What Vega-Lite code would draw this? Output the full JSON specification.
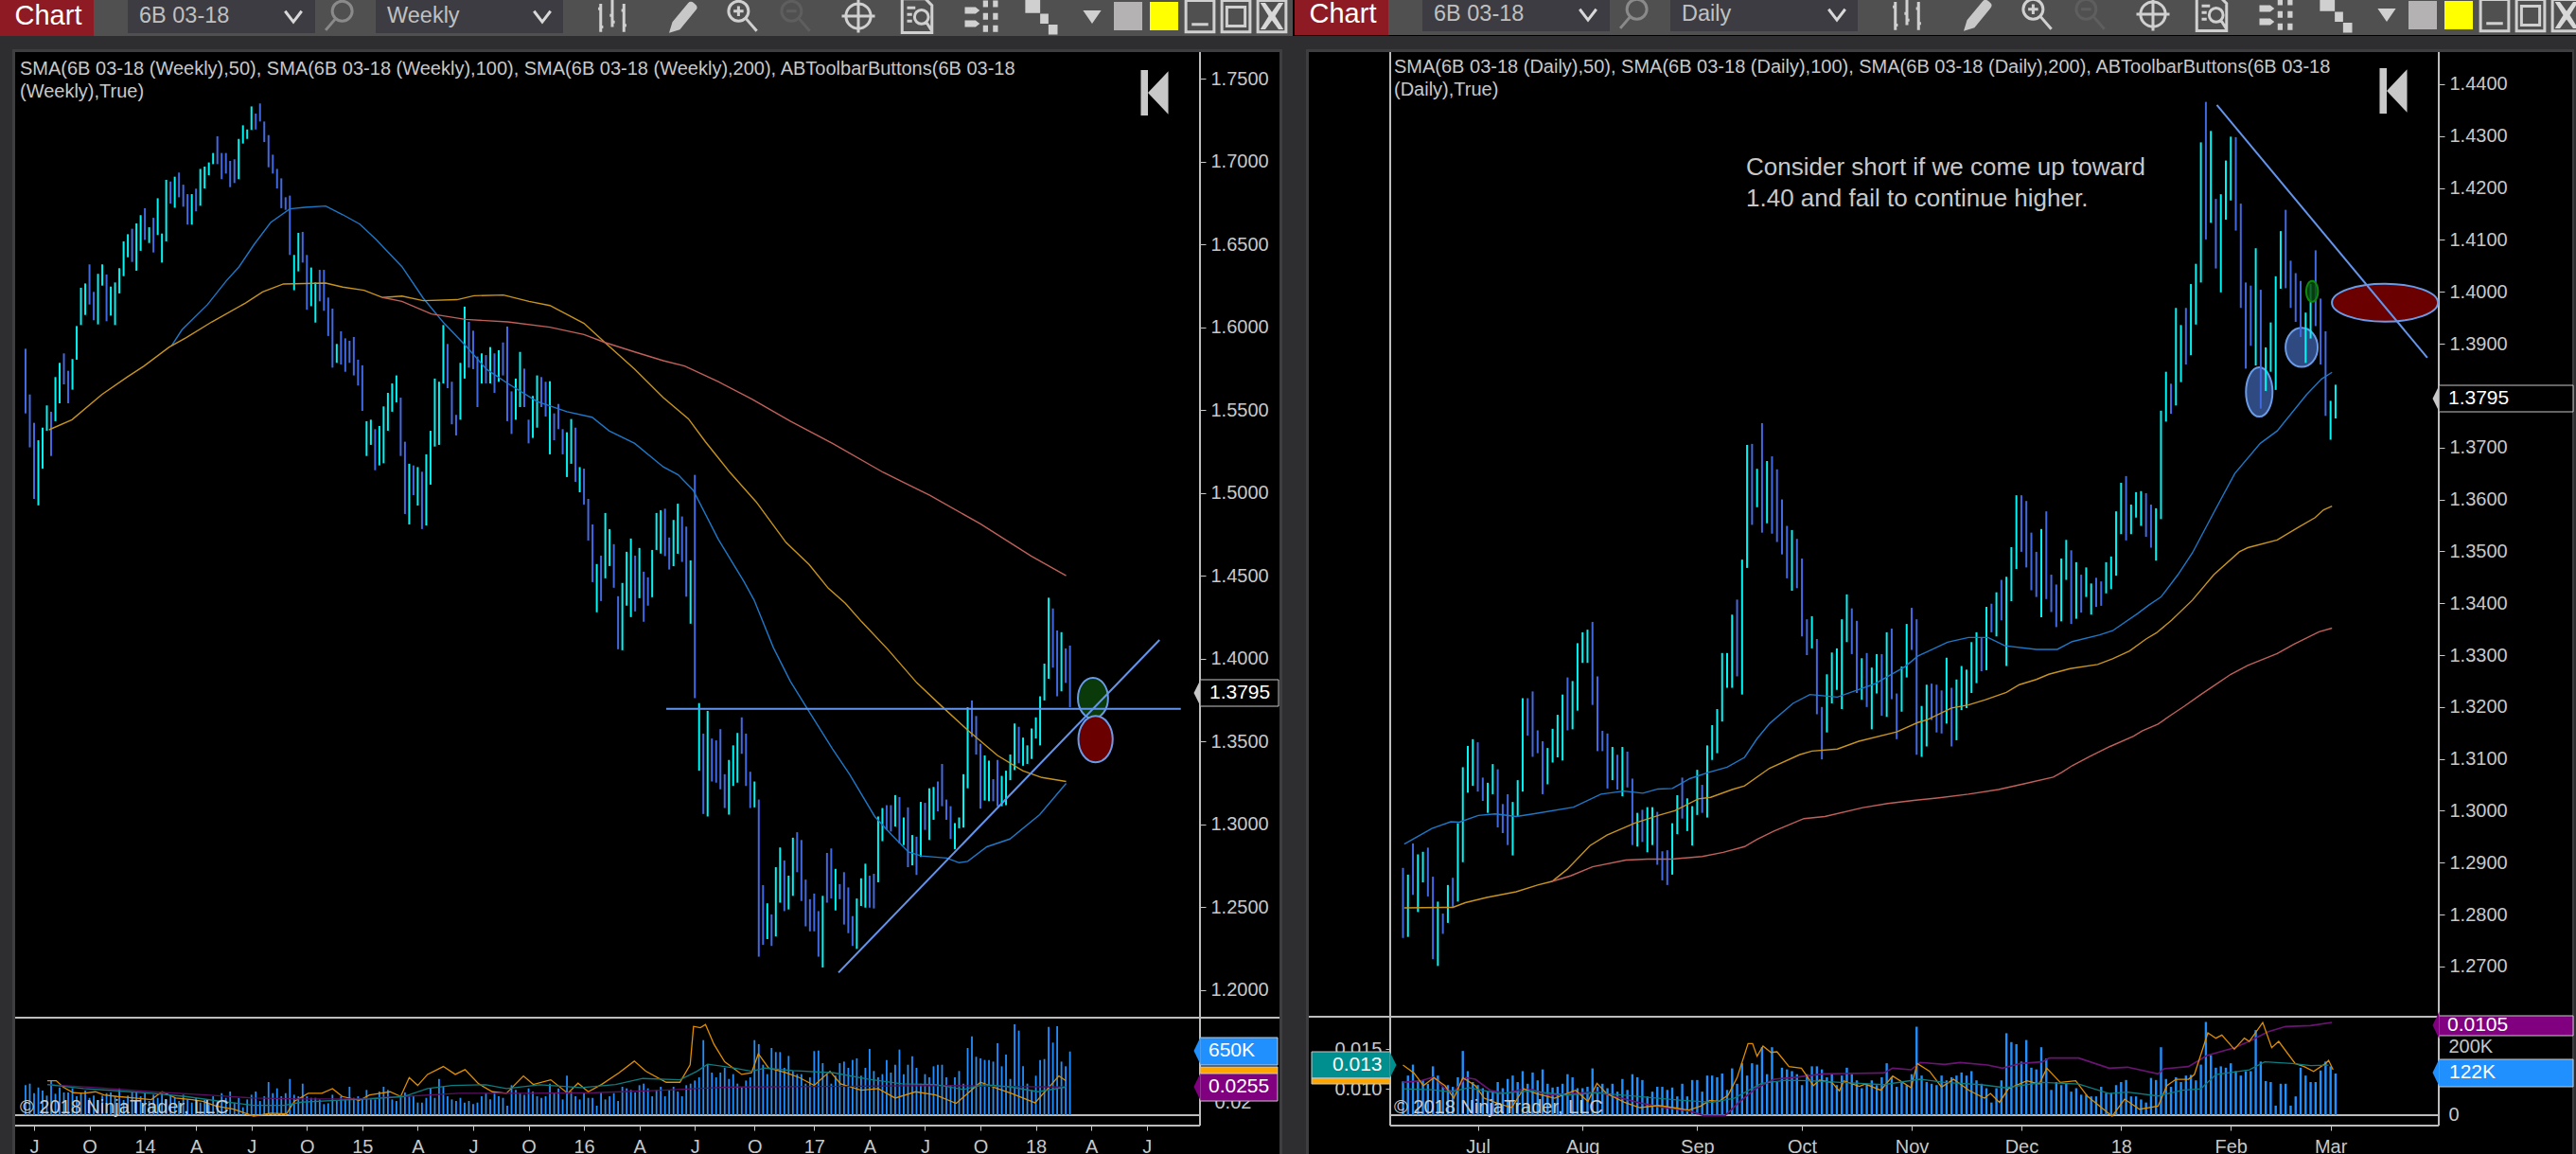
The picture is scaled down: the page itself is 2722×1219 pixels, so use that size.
{"$schema":"https://vega.github.io/schema/vega-lite/v6.json","width":2722,"height":1219,"padding":0,"autosize":{"type":"none"},"background":"#000000",
"config":{"view":{"stroke":null},"axis":{"labelFont":"Liberation Sans","labelColor":"#c8c8c8","labelFontSize":20,"tickColor":"#c8c8c8","domain":false,"grid":false,"labelOverlap":false,"labelBound":false,"labelFlush":false}},
"datasets":{
"weekly":[
{"n":0,"h":1.5870,"l":1.5480,"v":306,"dir":"down"},{"n":1,"h":1.5594,"l":1.5275,"v":322,"dir":"down"},{"n":2,"h":1.5423,"l":1.4964,"v":225,"dir":"down"},{"n":3,"h":1.5318,"l":1.4925,"v":283,"dir":"up"},{"n":4,"h":1.5394,"l":1.5147,"v":251,"dir":"up"},{"n":5,"h":1.5528,"l":1.5375,"v":200,"dir":"up"},{"n":6,"h":1.5490,"l":1.5223,"v":354,"dir":"down"},{"n":7,"h":1.5699,"l":1.5433,"v":219,"dir":"up"},{"n":8,"h":1.5785,"l":1.5541,"v":283,"dir":"up"},{"n":9,"h":1.5842,"l":1.5655,"v":232,"dir":"down"},
{"n":10,"h":1.5737,"l":1.5541,"v":232,"dir":"down"},{"n":11,"h":1.5808,"l":1.5623,"v":274,"dir":"up"},{"n":12,"h":1.6007,"l":1.5804,"v":193,"dir":"up"},{"n":13,"h":1.6238,"l":1.6013,"v":225,"dir":"up"},{"n":14,"h":1.6264,"l":1.6074,"v":251,"dir":"up"},{"n":15,"h":1.6379,"l":1.6137,"v":177,"dir":"down"},{"n":16,"h":1.6213,"l":1.6042,"v":200,"dir":"down"},{"n":17,"h":1.6322,"l":1.6017,"v":155,"dir":"up"},{"n":18,"h":1.6379,"l":1.6251,"v":200,"dir":"up"},{"n":19,"h":1.6318,"l":1.6036,"v":225,"dir":"down"},
{"n":20,"h":1.6245,"l":1.6070,"v":232,"dir":"up"},{"n":21,"h":1.6270,"l":1.6013,"v":193,"dir":"up"},{"n":22,"h":1.6356,"l":1.6204,"v":274,"dir":"up"},{"n":23,"h":1.6518,"l":1.6308,"v":155,"dir":"up"},{"n":24,"h":1.6561,"l":1.6422,"v":200,"dir":"up"},{"n":25,"h":1.6594,"l":1.6394,"v":232,"dir":"down"},{"n":26,"h":1.6626,"l":1.6341,"v":242,"dir":"up"},{"n":27,"h":1.6676,"l":1.6461,"v":193,"dir":"up"},{"n":28,"h":1.6718,"l":1.6527,"v":225,"dir":"down"},{"n":29,"h":1.6603,"l":1.6508,"v":145,"dir":"up"},
{"n":30,"h":1.6660,"l":1.6451,"v":209,"dir":"down"},{"n":31,"h":1.6778,"l":1.6556,"v":177,"dir":"up"},{"n":32,"h":1.6565,"l":1.6390,"v":225,"dir":"up"},{"n":33,"h":1.6889,"l":1.6518,"v":161,"dir":"up"},{"n":34,"h":1.6879,"l":1.6746,"v":193,"dir":"down"},{"n":35,"h":1.6908,"l":1.6721,"v":177,"dir":"up"},{"n":36,"h":1.6933,"l":1.6784,"v":145,"dir":"down"},{"n":37,"h":1.6860,"l":1.6727,"v":209,"dir":"down"},{"n":38,"h":1.6803,"l":1.6619,"v":161,"dir":"down"},{"n":39,"h":1.6803,"l":1.6619,"v":129,"dir":"up"},
{"n":40,"h":1.6836,"l":1.6699,"v":177,"dir":"down"},{"n":41,"h":1.6955,"l":1.6733,"v":129,"dir":"up"},{"n":42,"h":1.6969,"l":1.6837,"v":155,"dir":"up"},{"n":43,"h":1.6994,"l":1.6917,"v":113,"dir":"up"},{"n":44,"h":1.7051,"l":1.6984,"v":193,"dir":"up"},{"n":45,"h":1.7152,"l":1.6984,"v":145,"dir":"down"},{"n":46,"h":1.7051,"l":1.6893,"v":225,"dir":"down"},{"n":47,"h":1.7051,"l":1.6927,"v":177,"dir":"down"},{"n":48,"h":1.7003,"l":1.6845,"v":242,"dir":"down"},{"n":49,"h":1.7013,"l":1.6870,"v":129,"dir":"down"},
{"n":50,"h":1.7136,"l":1.6893,"v":177,"dir":"up"},{"n":51,"h":1.7218,"l":1.7108,"v":81,"dir":"up"},{"n":52,"h":1.7193,"l":1.7136,"v":161,"dir":"up"},{"n":53,"h":1.7332,"l":1.7190,"v":209,"dir":"up"},{"n":54,"h":1.7289,"l":1.7193,"v":242,"dir":"down"},{"n":55,"h":1.7350,"l":1.7241,"v":145,"dir":"down"},{"n":56,"h":1.7241,"l":1.7117,"v":193,"dir":"down"},{"n":57,"h":1.7159,"l":1.6965,"v":338,"dir":"down"},{"n":58,"h":1.7041,"l":1.6927,"v":225,"dir":"down"},{"n":59,"h":1.6955,"l":1.6837,"v":274,"dir":"down"},
{"n":60,"h":1.6898,"l":1.6718,"v":193,"dir":"down"},{"n":61,"h":1.6784,"l":1.6708,"v":225,"dir":"down"},{"n":62,"h":1.6794,"l":1.6436,"v":370,"dir":"down"},{"n":63,"h":1.6436,"l":1.6223,"v":209,"dir":"up"},{"n":64,"h":1.6569,"l":1.6337,"v":193,"dir":"up"},{"n":65,"h":1.6575,"l":1.6390,"v":322,"dir":"down"},{"n":66,"h":1.6436,"l":1.6105,"v":193,"dir":"down"},{"n":67,"h":1.6360,"l":1.6127,"v":177,"dir":"up"},{"n":68,"h":1.6270,"l":1.6028,"v":177,"dir":"up"},{"n":69,"h":1.6346,"l":1.6156,"v":161,"dir":"down"},
{"n":70,"h":1.6346,"l":1.6099,"v":113,"dir":"down"},{"n":71,"h":1.6179,"l":1.5947,"v":122,"dir":"down"},{"n":72,"h":1.6112,"l":1.5756,"v":209,"dir":"down"},{"n":73,"h":1.5899,"l":1.5785,"v":145,"dir":"up"},{"n":74,"h":1.5975,"l":1.5775,"v":193,"dir":"down"},{"n":75,"h":1.5933,"l":1.5731,"v":161,"dir":"down"},{"n":76,"h":1.5918,"l":1.5785,"v":290,"dir":"down"},{"n":77,"h":1.5941,"l":1.5709,"v":177,"dir":"down"},{"n":78,"h":1.5804,"l":1.5648,"v":193,"dir":"down"},{"n":79,"h":1.5770,"l":1.5495,"v":161,"dir":"down"},
{"n":80,"h":1.5433,"l":1.5223,"v":258,"dir":"up"},{"n":81,"h":1.5442,"l":1.5290,"v":161,"dir":"up"},{"n":82,"h":1.5385,"l":1.5137,"v":161,"dir":"down"},{"n":83,"h":1.5404,"l":1.5166,"v":242,"dir":"up"},{"n":84,"h":1.5522,"l":1.5179,"v":290,"dir":"up"},{"n":85,"h":1.5604,"l":1.5375,"v":258,"dir":"up"},{"n":86,"h":1.5661,"l":1.5490,"v":161,"dir":"up"},{"n":87,"h":1.5709,"l":1.5547,"v":145,"dir":"up"},{"n":88,"h":1.5575,"l":1.5223,"v":193,"dir":"down"},{"n":89,"h":1.5309,"l":1.4873,"v":232,"dir":"down"},
{"n":90,"h":1.5176,"l":1.4810,"v":209,"dir":"up"},{"n":91,"h":1.5166,"l":1.4987,"v":193,"dir":"down"},{"n":92,"h":1.5156,"l":1.4924,"v":129,"dir":"up"},{"n":93,"h":1.5128,"l":1.4782,"v":129,"dir":"down"},{"n":94,"h":1.5233,"l":1.4804,"v":177,"dir":"up"},{"n":95,"h":1.5375,"l":1.5050,"v":274,"dir":"up"},{"n":96,"h":1.5690,"l":1.5280,"v":177,"dir":"up"},{"n":97,"h":1.5671,"l":1.5290,"v":370,"dir":"up"},{"n":98,"h":1.6013,"l":1.5661,"v":290,"dir":"up"},{"n":99,"h":1.5899,"l":1.5632,"v":193,"dir":"down"},
{"n":100,"h":1.5671,"l":1.5414,"v":161,"dir":"down"},{"n":101,"h":1.5471,"l":1.5347,"v":145,"dir":"down"},{"n":102,"h":1.5785,"l":1.5442,"v":177,"dir":"up"},{"n":103,"h":1.6124,"l":1.5690,"v":129,"dir":"up"},{"n":104,"h":1.6032,"l":1.5756,"v":145,"dir":"down"},{"n":105,"h":1.5979,"l":1.5747,"v":113,"dir":"down"},{"n":106,"h":1.5823,"l":1.5518,"v":129,"dir":"down"},{"n":107,"h":1.5842,"l":1.5661,"v":193,"dir":"up"},{"n":108,"h":1.5832,"l":1.5661,"v":225,"dir":"down"},{"n":109,"h":1.5880,"l":1.5661,"v":161,"dir":"up"},
{"n":110,"h":1.5842,"l":1.5604,"v":242,"dir":"down"},{"n":111,"h":1.5861,"l":1.5671,"v":193,"dir":"up"},{"n":112,"h":1.5908,"l":1.5709,"v":177,"dir":"down"},{"n":113,"h":1.6004,"l":1.5433,"v":97,"dir":"down"},{"n":114,"h":1.5613,"l":1.5356,"v":306,"dir":"down"},{"n":115,"h":1.5690,"l":1.5442,"v":258,"dir":"up"},{"n":116,"h":1.5851,"l":1.5518,"v":225,"dir":"up"},{"n":117,"h":1.5750,"l":1.5518,"v":209,"dir":"down"},{"n":118,"h":1.5442,"l":1.5299,"v":274,"dir":"down"},{"n":119,"h":1.5585,"l":1.5332,"v":242,"dir":"up"},
{"n":120,"h":1.5709,"l":1.5394,"v":193,"dir":"up"},{"n":121,"h":1.5699,"l":1.5518,"v":177,"dir":"down"},{"n":122,"h":1.5671,"l":1.5461,"v":193,"dir":"down"},{"n":123,"h":1.5674,"l":1.5233,"v":322,"dir":"up"},{"n":124,"h":1.5480,"l":1.5318,"v":225,"dir":"down"},{"n":125,"h":1.5537,"l":1.5385,"v":274,"dir":"down"},{"n":126,"h":1.5385,"l":1.5233,"v":161,"dir":"down"},{"n":127,"h":1.5366,"l":1.5096,"v":403,"dir":"up"},{"n":128,"h":1.5446,"l":1.5176,"v":242,"dir":"up"},{"n":129,"h":1.5394,"l":1.5067,"v":193,"dir":"down"},
{"n":130,"h":1.5156,"l":1.5004,"v":161,"dir":"up"},{"n":131,"h":1.5147,"l":1.4930,"v":225,"dir":"down"},{"n":132,"h":1.4964,"l":1.4713,"v":177,"dir":"down"},{"n":133,"h":1.4810,"l":1.4462,"v":177,"dir":"down"},{"n":134,"h":1.4571,"l":1.4280,"v":97,"dir":"up"},{"n":135,"h":1.4622,"l":1.4348,"v":232,"dir":"down"},{"n":136,"h":1.4879,"l":1.4485,"v":161,"dir":"up"},{"n":137,"h":1.4782,"l":1.4559,"v":193,"dir":"up"},{"n":138,"h":1.4691,"l":1.4428,"v":225,"dir":"down"},{"n":139,"h":1.4377,"l":1.4057,"v":145,"dir":"down"},
{"n":140,"h":1.4457,"l":1.4051,"v":290,"dir":"up"},{"n":141,"h":1.4645,"l":1.4320,"v":274,"dir":"up"},{"n":142,"h":1.4725,"l":1.4251,"v":258,"dir":"up"},{"n":143,"h":1.4622,"l":1.4285,"v":232,"dir":"down"},{"n":144,"h":1.4668,"l":1.4365,"v":306,"dir":"up"},{"n":145,"h":1.4525,"l":1.4223,"v":322,"dir":"down"},{"n":146,"h":1.4491,"l":1.4320,"v":274,"dir":"down"},{"n":147,"h":1.4656,"l":1.4371,"v":193,"dir":"up"},{"n":148,"h":1.4879,"l":1.4656,"v":258,"dir":"up"},{"n":149,"h":1.4896,"l":1.4634,"v":290,"dir":"up"},
{"n":150,"h":1.4905,"l":1.4619,"v":193,"dir":"down"},{"n":151,"h":1.4731,"l":1.4538,"v":258,"dir":"down"},{"n":152,"h":1.4837,"l":1.4558,"v":290,"dir":"up"},{"n":153,"h":1.4935,"l":1.4633,"v":242,"dir":"up"},{"n":154,"h":1.4858,"l":1.4584,"v":193,"dir":"down"},{"n":155,"h":1.4797,"l":1.4374,"v":306,"dir":"down"},{"n":156,"h":1.4593,"l":1.4211,"v":322,"dir":"up"},{"n":157,"h":1.5109,"l":1.3762,"v":354,"dir":"down"},{"n":158,"h":1.3732,"l":1.3324,"v":386,"dir":"up"},{"n":159,"h":1.3548,"l":1.3063,"v":766,"dir":"down"},
{"n":160,"h":1.3685,"l":1.3048,"v":515,"dir":"up"},{"n":161,"h":1.3518,"l":1.3259,"v":435,"dir":"down"},{"n":162,"h":1.3507,"l":1.3252,"v":386,"dir":"down"},{"n":163,"h":1.3575,"l":1.3212,"v":435,"dir":"down"},{"n":164,"h":1.3303,"l":1.3099,"v":483,"dir":"down"},{"n":165,"h":1.3389,"l":1.3059,"v":370,"dir":"up"},{"n":166,"h":1.3477,"l":1.3232,"v":419,"dir":"up"},{"n":167,"h":1.3552,"l":1.3252,"v":322,"dir":"up"},{"n":168,"h":1.3646,"l":1.3426,"v":290,"dir":"down"},{"n":169,"h":1.3548,"l":1.3232,"v":354,"dir":"down"},
{"n":170,"h":1.3318,"l":1.3099,"v":386,"dir":"down"},{"n":171,"h":1.3259,"l":1.3103,"v":766,"dir":"up"},{"n":172,"h":1.3150,"l":1.2202,"v":725,"dir":"down"},{"n":173,"h":1.2634,"l":1.2273,"v":515,"dir":"down"},{"n":174,"h":1.2524,"l":1.2308,"v":419,"dir":"up"},{"n":175,"h":1.2457,"l":1.2267,"v":686,"dir":"down"},{"n":176,"h":1.2742,"l":1.2324,"v":644,"dir":"up"},{"n":177,"h":1.2861,"l":1.2528,"v":644,"dir":"up"},{"n":178,"h":1.2783,"l":1.2477,"v":483,"dir":"down"},{"n":179,"h":1.2691,"l":1.2487,"v":605,"dir":"up"},
{"n":180,"h":1.2920,"l":1.2569,"v":451,"dir":"up"},{"n":181,"h":1.2953,"l":1.2712,"v":419,"dir":"down"},{"n":182,"h":1.2906,"l":1.2538,"v":419,"dir":"down"},{"n":183,"h":1.2667,"l":1.2385,"v":322,"dir":"down"},{"n":184,"h":1.2549,"l":1.2355,"v":386,"dir":"down"},{"n":185,"h":1.2583,"l":1.2355,"v":654,"dir":"down"},{"n":186,"h":1.2477,"l":1.2202,"v":660,"dir":"down"},{"n":187,"h":1.2569,"l":1.2137,"v":531,"dir":"up"},{"n":188,"h":1.2828,"l":1.2528,"v":419,"dir":"down"},{"n":189,"h":1.2855,"l":1.2553,"v":322,"dir":"down"},
{"n":190,"h":1.2732,"l":1.2481,"v":403,"dir":"up"},{"n":191,"h":1.2640,"l":1.2549,"v":531,"dir":"down"},{"n":192,"h":1.2712,"l":1.2396,"v":547,"dir":"down"},{"n":193,"h":1.2620,"l":1.2344,"v":483,"dir":"down"},{"n":194,"h":1.2447,"l":1.2267,"v":564,"dir":"down"},{"n":195,"h":1.2553,"l":1.2249,"v":580,"dir":"up"},{"n":196,"h":1.2675,"l":1.2508,"v":403,"dir":"up"},{"n":197,"h":1.2763,"l":1.2498,"v":483,"dir":"up"},{"n":198,"h":1.2691,"l":1.2498,"v":676,"dir":"down"},{"n":199,"h":1.2702,"l":1.2493,"v":451,"dir":"down"},
{"n":200,"h":1.3048,"l":1.2651,"v":386,"dir":"up"},{"n":201,"h":1.3099,"l":1.2899,"v":419,"dir":"up"},{"n":202,"h":1.3116,"l":1.2967,"v":564,"dir":"down"},{"n":203,"h":1.3116,"l":1.2957,"v":435,"dir":"down"},{"n":204,"h":1.3177,"l":1.2987,"v":515,"dir":"up"},{"n":205,"h":1.3165,"l":1.2885,"v":670,"dir":"down"},{"n":206,"h":1.3042,"l":1.2875,"v":419,"dir":"up"},{"n":207,"h":1.3103,"l":1.2742,"v":515,"dir":"down"},{"n":208,"h":1.2936,"l":1.2753,"v":602,"dir":"up"},{"n":209,"h":1.2926,"l":1.2695,"v":483,"dir":"down"},
{"n":210,"h":1.3136,"l":1.2804,"v":322,"dir":"up"},{"n":211,"h":1.3130,"l":1.2967,"v":419,"dir":"down"},{"n":212,"h":1.3218,"l":1.2906,"v":386,"dir":"up"},{"n":213,"h":1.3226,"l":1.3028,"v":499,"dir":"up"},{"n":214,"h":1.3259,"l":1.3079,"v":515,"dir":"down"},{"n":215,"h":1.3365,"l":1.3110,"v":515,"dir":"down"},{"n":216,"h":1.3150,"l":1.3028,"v":386,"dir":"down"},{"n":217,"h":1.3110,"l":1.2912,"v":306,"dir":"down"},{"n":218,"h":1.3008,"l":1.2851,"v":386,"dir":"up"},{"n":219,"h":1.3042,"l":1.2977,"v":451,"dir":"up"},
{"n":220,"h":1.3303,"l":1.2981,"v":322,"dir":"up"},{"n":221,"h":1.3707,"l":1.3218,"v":686,"dir":"up"},{"n":222,"h":1.3748,"l":1.3528,"v":805,"dir":"down"},{"n":223,"h":1.3654,"l":1.3422,"v":596,"dir":"down"},{"n":224,"h":1.3487,"l":1.3095,"v":580,"dir":"down"},{"n":225,"h":1.3416,"l":1.3144,"v":564,"dir":"up"},{"n":226,"h":1.3385,"l":1.3140,"v":564,"dir":"up"},{"n":227,"h":1.3273,"l":1.3140,"v":547,"dir":"down"},{"n":228,"h":1.3389,"l":1.3110,"v":734,"dir":"down"},{"n":229,"h":1.3293,"l":1.3110,"v":499,"dir":"up"},
{"n":230,"h":1.3324,"l":1.3116,"v":618,"dir":"up"},{"n":231,"h":1.3422,"l":1.3267,"v":370,"dir":"up"},{"n":232,"h":1.3609,"l":1.3328,"v":927,"dir":"up"},{"n":233,"h":1.3589,"l":1.3369,"v":863,"dir":"down"},{"n":234,"h":1.3524,"l":1.3354,"v":499,"dir":"up"},{"n":235,"h":1.3477,"l":1.3365,"v":322,"dir":"up"},{"n":236,"h":1.3579,"l":1.3395,"v":258,"dir":"up"},{"n":237,"h":1.3646,"l":1.3518,"v":403,"dir":"up"},{"n":238,"h":1.3773,"l":1.3477,"v":564,"dir":"up"},{"n":239,"h":1.3970,"l":1.3748,"v":573,"dir":"up"},
{"n":240,"h":1.4368,"l":1.3879,"v":902,"dir":"up"},{"n":241,"h":1.4303,"l":1.3946,"v":741,"dir":"down"},{"n":242,"h":1.4170,"l":1.3773,"v":908,"dir":"down"},{"n":243,"h":1.4160,"l":1.3803,"v":547,"dir":"up"},{"n":244,"h":1.4062,"l":1.3854,"v":499,"dir":"down"},{"n":245,"h":1.4079,"l":1.3707,"v":650,"dir":"down"}],
"daily":[
{"n":0,"h":1.2890,"l":1.2755,"v":99,"dir":"down"},{"n":1,"h":1.2877,"l":1.2757,"v":116,"dir":"up"},{"n":2,"h":1.2937,"l":1.2838,"v":148,"dir":"down"},{"n":3,"h":1.2916,"l":1.2805,"v":102,"dir":"up"},{"n":4,"h":1.2921,"l":1.2862,"v":102,"dir":"up"},{"n":5,"h":1.2929,"l":1.2835,"v":92,"dir":"down"},{"n":6,"h":1.2873,"l":1.2714,"v":143,"dir":"down"},{"n":7,"h":1.2825,"l":1.2701,"v":116,"dir":"up"},{"n":8,"h":1.2802,"l":1.2763,"v":83,"dir":"down"},{"n":9,"h":1.2857,"l":1.2784,"v":88,"dir":"up"},
{"n":10,"h":1.2871,"l":1.2815,"v":83,"dir":"down"},{"n":11,"h":1.2976,"l":1.2825,"v":111,"dir":"up"},{"n":12,"h":1.3084,"l":1.2901,"v":188,"dir":"up"},{"n":13,"h":1.3125,"l":1.3035,"v":129,"dir":"up"},{"n":14,"h":1.3138,"l":1.3048,"v":97,"dir":"up"},{"n":15,"h":1.3132,"l":1.3037,"v":88,"dir":"down"},{"n":16,"h":1.3064,"l":1.3019,"v":79,"dir":"down"},{"n":17,"h":1.3054,"l":1.2996,"v":69,"dir":"up"},{"n":18,"h":1.3090,"l":1.3032,"v":69,"dir":"up"},{"n":19,"h":1.3080,"l":1.2968,"v":97,"dir":"down"},
{"n":20,"h":1.3013,"l":1.2957,"v":79,"dir":"down"},{"n":21,"h":1.3032,"l":1.2934,"v":106,"dir":"down"},{"n":22,"h":1.3017,"l":1.2914,"v":116,"dir":"up"},{"n":23,"h":1.3059,"l":1.2989,"v":97,"dir":"up"},{"n":24,"h":1.3217,"l":1.3037,"v":129,"dir":"up"},{"n":25,"h":1.3217,"l":1.3145,"v":92,"dir":"down"},{"n":26,"h":1.3230,"l":1.3104,"v":125,"dir":"down"},{"n":27,"h":1.3155,"l":1.3111,"v":102,"dir":"down"},{"n":28,"h":1.3134,"l":1.3032,"v":134,"dir":"down"},{"n":29,"h":1.3121,"l":1.3051,"v":92,"dir":"up"},
{"n":30,"h":1.3158,"l":1.3093,"v":81,"dir":"up"},{"n":31,"h":1.3185,"l":1.3103,"v":83,"dir":"up"},{"n":32,"h":1.3224,"l":1.3097,"v":92,"dir":"up"},{"n":33,"h":1.3257,"l":1.3155,"v":120,"dir":"down"},{"n":34,"h":1.3250,"l":1.3157,"v":111,"dir":"up"},{"n":35,"h":1.3323,"l":1.3193,"v":79,"dir":"up"},{"n":36,"h":1.3344,"l":1.3285,"v":79,"dir":"up"},{"n":37,"h":1.3349,"l":1.3285,"v":83,"dir":"up"},{"n":38,"h":1.3364,"l":1.3204,"v":137,"dir":"down"},{"n":39,"h":1.3259,"l":1.3115,"v":83,"dir":"down"},
{"n":40,"h":1.3154,"l":1.3115,"v":92,"dir":"down"},{"n":41,"h":1.3149,"l":1.3043,"v":79,"dir":"down"},{"n":42,"h":1.3123,"l":1.3059,"v":92,"dir":"up"},{"n":43,"h":1.3108,"l":1.3041,"v":69,"dir":"down"},{"n":44,"h":1.3123,"l":1.3028,"v":106,"dir":"up"},{"n":45,"h":1.3114,"l":1.3045,"v":74,"dir":"down"},{"n":46,"h":1.3062,"l":1.2934,"v":120,"dir":"down"},{"n":47,"h":1.2996,"l":1.2931,"v":111,"dir":"up"},{"n":48,"h":1.3002,"l":1.2940,"v":103,"dir":"down"},{"n":49,"h":1.3007,"l":1.2920,"v":55,"dir":"up"},
{"n":50,"h":1.3007,"l":1.2934,"v":69,"dir":"up"},{"n":51,"h":1.2998,"l":1.2896,"v":83,"dir":"down"},{"n":52,"h":1.2922,"l":1.2866,"v":83,"dir":"down"},{"n":53,"h":1.2924,"l":1.2857,"v":74,"dir":"down"},{"n":54,"h":1.2976,"l":1.2877,"v":81,"dir":"up"},{"n":55,"h":1.3030,"l":1.2955,"v":55,"dir":"up"},{"n":56,"h":1.3064,"l":1.2985,"v":92,"dir":"down"},{"n":57,"h":1.3024,"l":1.2961,"v":55,"dir":"up"},{"n":58,"h":1.3009,"l":1.2933,"v":103,"dir":"up"},{"n":59,"h":1.3079,"l":1.2992,"v":103,"dir":"up"},
{"n":60,"h":1.3050,"l":1.2996,"v":69,"dir":"down"},{"n":61,"h":1.3126,"l":1.2987,"v":116,"dir":"up"},{"n":62,"h":1.3165,"l":1.3098,"v":116,"dir":"up"},{"n":63,"h":1.3196,"l":1.3111,"v":111,"dir":"up"},{"n":64,"h":1.3304,"l":1.3172,"v":122,"dir":"up"},{"n":65,"h":1.3304,"l":1.3237,"v":74,"dir":"up"},{"n":66,"h":1.3378,"l":1.3237,"v":137,"dir":"up"},{"n":67,"h":1.3407,"l":1.3259,"v":92,"dir":"down"},{"n":68,"h":1.3484,"l":1.3224,"v":152,"dir":"up"},{"n":69,"h":1.3705,"l":1.3468,"v":116,"dir":"up"},
{"n":70,"h":1.3707,"l":1.3551,"v":152,"dir":"down"},{"n":71,"h":1.3659,"l":1.3585,"v":148,"dir":"up"},{"n":72,"h":1.3747,"l":1.3536,"v":199,"dir":"down"},{"n":73,"h":1.3674,"l":1.3554,"v":120,"dir":"up"},{"n":74,"h":1.3683,"l":1.3534,"v":199,"dir":"down"},{"n":75,"h":1.3658,"l":1.3518,"v":97,"dir":"down"},{"n":76,"h":1.3600,"l":1.3494,"v":139,"dir":"down"},{"n":77,"h":1.3549,"l":1.3448,"v":134,"dir":"down"},{"n":78,"h":1.3541,"l":1.3424,"v":129,"dir":"up"},{"n":79,"h":1.3524,"l":1.3429,"v":120,"dir":"down"},
{"n":80,"h":1.3486,"l":1.3336,"v":88,"dir":"down"},{"n":81,"h":1.3369,"l":1.3300,"v":120,"dir":"down"},{"n":82,"h":1.3375,"l":1.3313,"v":143,"dir":"up"},{"n":83,"h":1.3331,"l":1.3186,"v":143,"dir":"down"},{"n":84,"h":1.3200,"l":1.3099,"v":134,"dir":"down"},{"n":85,"h":1.3263,"l":1.3151,"v":111,"dir":"up"},{"n":86,"h":1.3305,"l":1.3207,"v":120,"dir":"up"},{"n":87,"h":1.3313,"l":1.3233,"v":88,"dir":"up"},{"n":88,"h":1.3369,"l":1.3196,"v":116,"dir":"up"},{"n":89,"h":1.3417,"l":1.3325,"v":139,"dir":"up"},
{"n":90,"h":1.3390,"l":1.3302,"v":120,"dir":"down"},{"n":91,"h":1.3366,"l":1.3227,"v":102,"dir":"down"},{"n":92,"h":1.3294,"l":1.3214,"v":79,"dir":"up"},{"n":93,"h":1.3304,"l":1.3200,"v":92,"dir":"down"},{"n":94,"h":1.3276,"l":1.3157,"v":102,"dir":"up"},{"n":95,"h":1.3302,"l":1.3226,"v":88,"dir":"up"},{"n":96,"h":1.3302,"l":1.3183,"v":111,"dir":"down"},{"n":97,"h":1.3344,"l":1.3181,"v":152,"dir":"up"},{"n":98,"h":1.3351,"l":1.3215,"v":111,"dir":"down"},{"n":99,"h":1.3226,"l":1.3138,"v":83,"dir":"down"},
{"n":100,"h":1.3278,"l":1.3191,"v":97,"dir":"up"},{"n":101,"h":1.3360,"l":1.3257,"v":88,"dir":"up"},{"n":102,"h":1.3391,"l":1.3310,"v":120,"dir":"down"},{"n":103,"h":1.3369,"l":1.3108,"v":259,"dir":"down"},{"n":104,"h":1.3202,"l":1.3104,"v":116,"dir":"up"},{"n":105,"h":1.3243,"l":1.3124,"v":97,"dir":"up"},{"n":106,"h":1.3245,"l":1.3175,"v":92,"dir":"down"},{"n":107,"h":1.3243,"l":1.3151,"v":88,"dir":"down"},{"n":108,"h":1.3232,"l":1.3149,"v":116,"dir":"down"},{"n":109,"h":1.3295,"l":1.3168,"v":102,"dir":"up"},
{"n":110,"h":1.3237,"l":1.3124,"v":111,"dir":"down"},{"n":111,"h":1.3253,"l":1.3136,"v":116,"dir":"up"},{"n":112,"h":1.3279,"l":1.3194,"v":125,"dir":"up"},{"n":113,"h":1.3272,"l":1.3198,"v":116,"dir":"up"},{"n":114,"h":1.3325,"l":1.3227,"v":129,"dir":"up"},{"n":115,"h":1.3344,"l":1.3246,"v":102,"dir":"up"},{"n":116,"h":1.3334,"l":1.3269,"v":92,"dir":"down"},{"n":117,"h":1.3393,"l":1.3271,"v":79,"dir":"up"},{"n":118,"h":1.3399,"l":1.3344,"v":37,"dir":"down"},{"n":119,"h":1.3421,"l":1.3336,"v":79,"dir":"up"},
{"n":120,"h":1.3445,"l":1.3367,"v":102,"dir":"down"},{"n":121,"h":1.3451,"l":1.3279,"v":240,"dir":"up"},{"n":122,"h":1.3508,"l":1.3404,"v":214,"dir":"up"},{"n":123,"h":1.3608,"l":1.3466,"v":208,"dir":"up"},{"n":124,"h":1.3608,"l":1.3499,"v":157,"dir":"down"},{"n":125,"h":1.3597,"l":1.3469,"v":220,"dir":"down"},{"n":126,"h":1.3536,"l":1.3425,"v":139,"dir":"down"},{"n":127,"h":1.3499,"l":1.3412,"v":134,"dir":"down"},{"n":128,"h":1.3543,"l":1.3373,"v":199,"dir":"up"},{"n":129,"h":1.3577,"l":1.3408,"v":166,"dir":"down"},
{"n":130,"h":1.3455,"l":1.3383,"v":74,"dir":"down"},{"n":131,"h":1.3436,"l":1.3354,"v":97,"dir":"down"},{"n":132,"h":1.3486,"l":1.3365,"v":88,"dir":"up"},{"n":133,"h":1.3522,"l":1.3445,"v":92,"dir":"up"},{"n":134,"h":1.3502,"l":1.3360,"v":69,"dir":"down"},{"n":135,"h":1.3479,"l":1.3370,"v":79,"dir":"up"},{"n":136,"h":1.3455,"l":1.3382,"v":60,"dir":"down"},{"n":137,"h":1.3469,"l":1.3412,"v":60,"dir":"up"},{"n":138,"h":1.3438,"l":1.3378,"v":55,"dir":"up"},{"n":139,"h":1.3449,"l":1.3393,"v":55,"dir":"down"},
{"n":140,"h":1.3442,"l":1.3395,"v":83,"dir":"down"},{"n":141,"h":1.3479,"l":1.3419,"v":65,"dir":"up"},{"n":142,"h":1.3490,"l":1.3427,"v":65,"dir":"up"},{"n":143,"h":1.3577,"l":1.3453,"v":88,"dir":"up"},{"n":144,"h":1.3632,"l":1.3533,"v":97,"dir":"up"},{"n":145,"h":1.3645,"l":1.3521,"v":103,"dir":"down"},{"n":146,"h":1.3590,"l":1.3533,"v":55,"dir":"up"},{"n":147,"h":1.3614,"l":1.3565,"v":55,"dir":"up"},{"n":148,"h":1.3616,"l":1.3549,"v":46,"dir":"up"},{"n":149,"h":1.3612,"l":1.3528,"v":37,"dir":"down"},
{"n":150,"h":1.3590,"l":1.3507,"v":109,"dir":"down"},{"n":151,"h":1.3583,"l":1.3482,"v":103,"dir":"up"},{"n":152,"h":1.3771,"l":1.3562,"v":199,"dir":"up"},{"n":153,"h":1.3846,"l":1.3750,"v":106,"dir":"up"},{"n":154,"h":1.3823,"l":1.3765,"v":83,"dir":"down"},{"n":155,"h":1.3969,"l":1.3781,"v":111,"dir":"up"},{"n":156,"h":1.3936,"l":1.3826,"v":97,"dir":"up"},{"n":157,"h":1.3969,"l":1.3860,"v":116,"dir":"down"},{"n":158,"h":1.4015,"l":1.3878,"v":118,"dir":"up"},{"n":159,"h":1.4054,"l":1.3937,"v":102,"dir":"up"},
{"n":160,"h":1.4288,"l":1.4018,"v":148,"dir":"up"},{"n":161,"h":1.4366,"l":1.4101,"v":273,"dir":"down"},{"n":162,"h":1.4310,"l":1.4133,"v":176,"dir":"up"},{"n":163,"h":1.4179,"l":1.4045,"v":139,"dir":"down"},{"n":164,"h":1.4188,"l":1.3999,"v":143,"dir":"up"},{"n":165,"h":1.4253,"l":1.4139,"v":139,"dir":"up"},{"n":166,"h":1.4299,"l":1.4176,"v":152,"dir":"up"},{"n":167,"h":1.4298,"l":1.4118,"v":129,"dir":"down"},{"n":168,"h":1.4170,"l":1.3969,"v":116,"dir":"down"},{"n":169,"h":1.4018,"l":1.3852,"v":129,"dir":"down"},
{"n":170,"h":1.4012,"l":1.3896,"v":129,"dir":"down"},{"n":171,"h":1.4084,"l":1.3858,"v":249,"dir":"up"},{"n":172,"h":1.4004,"l":1.3775,"v":157,"dir":"down"},{"n":173,"h":1.3893,"l":1.3809,"v":100,"dir":"up"},{"n":174,"h":1.3941,"l":1.3846,"v":97,"dir":"up"},{"n":175,"h":1.4030,"l":1.3811,"v":28,"dir":"up"},{"n":176,"h":1.4117,"l":1.4006,"v":92,"dir":"up"},{"n":177,"h":1.4158,"l":1.4007,"v":92,"dir":"down"},{"n":178,"h":1.4060,"l":1.3969,"v":28,"dir":"down"},{"n":179,"h":1.4036,"l":1.3942,"v":55,"dir":"down"},
{"n":180,"h":1.4021,"l":1.3913,"v":139,"dir":"down"},{"n":181,"h":1.3960,"l":1.3863,"v":116,"dir":"up"},{"n":182,"h":1.4015,"l":1.3910,"v":97,"dir":"up"},{"n":183,"h":1.4080,"l":1.3934,"v":97,"dir":"down"},{"n":184,"h":1.3987,"l":1.3860,"v":131,"dir":"down"},{"n":185,"h":1.3924,"l":1.3761,"v":157,"dir":"down"},{"n":186,"h":1.3790,"l":1.3715,"v":143,"dir":"up"},{"n":187,"h":1.3821,"l":1.3756,"v":122,"dir":"up"}],
"smaWeekly":[
{"n":34.2,"p":1.5886,"s":"50"},{"n":36.7,"p":1.5985,"s":"50"},{"n":42.7,"p":1.6137,"s":"50"},{"n":47.1,"p":1.6280,"s":"50"},{"n":50.1,"p":1.6365,"s":"50"},{"n":53.6,"p":1.6499,"s":"50"},{"n":57.5,"p":1.6632,"s":"50"},{"n":62,"p":1.6714,"s":"50"},{"n":65.5,"p":1.6723,"s":"50"},{"n":70.4,"p":1.6731,"s":"50"},{"n":74.4,"p":1.6679,"s":"50"},{"n":78.4,"p":1.6622,"s":"50"},{"n":82.3,"p":1.6527,"s":"50"},{"n":88.3,"p":1.6365,"s":"50"},{"n":93.3,"p":1.6175,"s":"50"},{"n":98.2,"p":1.6023,"s":"50"},{"n":103.2,"p":1.5889,"s":"50"},{"n":108.1,"p":1.5747,"s":"50"},{"n":113.1,"p":1.5661,"s":"50"},{"n":120,"p":1.5552,"s":"50"},{"n":127,"p":1.5490,"s":"50"},{"n":132.9,"p":1.5457,"s":"50"},{"n":136.9,"p":1.5375,"s":"50"},{"n":142.9,"p":1.5299,"s":"50"},{"n":149.6,"p":1.5157,"s":"50"},{"n":153.1,"p":1.5109,"s":"50"},{"n":156.6,"p":1.5017,"s":"50"},{"n":162.5,"p":1.4721,"s":"50"},{"n":168.5,"p":1.4466,"s":"50"},{"n":170.9,"p":1.4354,"s":"50"},{"n":175.4,"p":1.4068,"s":"50"},{"n":179.4,"p":1.3864,"s":"50"},{"n":183.8,"p":1.3681,"s":"50"},{"n":189.3,"p":1.3456,"s":"50"},{"n":193.3,"p":1.3303,"s":"50"},{"n":199.2,"p":1.3048,"s":"50"},{"n":203.2,"p":1.2936,"s":"50"},{"n":207.1,"p":1.2834,"s":"50"},{"n":210.1,"p":1.2810,"s":"50"},{"n":216.1,"p":1.2797,"s":"50"},{"n":219,"p":1.2769,"s":"50"},{"n":221,"p":1.2777,"s":"50"},{"n":225.5,"p":1.2865,"s":"50"},{"n":230.9,"p":1.2912,"s":"50"},{"n":237.9,"p":1.3059,"s":"50"},{"n":244.1,"p":1.3248,"s":"50"},
{"n":5.5,"p":1.5381,"s":"100"},{"n":10.9,"p":1.5442,"s":"100"},{"n":17.9,"p":1.5594,"s":"100"},{"n":23.8,"p":1.5699,"s":"100"},{"n":27.8,"p":1.5766,"s":"100"},{"n":33.7,"p":1.5880,"s":"100"},{"n":37.7,"p":1.5937,"s":"100"},{"n":43.7,"p":1.6032,"s":"100"},{"n":51.6,"p":1.6146,"s":"100"},{"n":55.6,"p":1.6213,"s":"100"},{"n":60.5,"p":1.6261,"s":"100"},{"n":70.4,"p":1.6266,"s":"100"},{"n":74.4,"p":1.6242,"s":"100"},{"n":79.4,"p":1.6223,"s":"100"},{"n":83.8,"p":1.6179,"s":"100"},{"n":88.3,"p":1.6188,"s":"100"},{"n":93.3,"p":1.6160,"s":"100"},{"n":101.2,"p":1.6166,"s":"100"},{"n":105.2,"p":1.6190,"s":"100"},{"n":112.1,"p":1.6194,"s":"100"},{"n":118.1,"p":1.6156,"s":"100"},{"n":123,"p":1.6131,"s":"100"},{"n":131,"p":1.6023,"s":"100"},{"n":135.9,"p":1.5908,"s":"100"},{"n":142.9,"p":1.5747,"s":"100"},{"n":149.6,"p":1.5575,"s":"100"},{"n":155.5,"p":1.5447,"s":"100"},{"n":159.5,"p":1.5308,"s":"100"},{"n":165.2,"p":1.5125,"s":"100"},{"n":171.4,"p":1.4946,"s":"100"},{"n":178.4,"p":1.4701,"s":"100"},{"n":183.8,"p":1.4568,"s":"100"},{"n":188.3,"p":1.4425,"s":"100"},{"n":192.3,"p":1.4334,"s":"100"},{"n":196.2,"p":1.4221,"s":"100"},{"n":202.2,"p":1.4058,"s":"100"},{"n":209.1,"p":1.3854,"s":"100"},{"n":215,"p":1.3711,"s":"100"},{"n":221,"p":1.3569,"s":"100"},{"n":228,"p":1.3416,"s":"100"},{"n":233.9,"p":1.3324,"s":"100"},{"n":238.4,"p":1.3283,"s":"100"},{"n":244.1,"p":1.3259,"s":"100"},
{"n":83.8,"p":1.6179,"s":"200"},{"n":88.3,"p":1.6156,"s":"200"},{"n":95.2,"p":1.6080,"s":"200"},{"n":103.2,"p":1.6047,"s":"200"},{"n":113.1,"p":1.6032,"s":"200"},{"n":123,"p":1.6000,"s":"200"},{"n":131,"p":1.5956,"s":"200"},{"n":135.9,"p":1.5908,"s":"200"},{"n":142.9,"p":1.5851,"s":"200"},{"n":149.6,"p":1.5798,"s":"200"},{"n":154.6,"p":1.5766,"s":"200"},{"n":162.5,"p":1.5671,"s":"200"},{"n":170.4,"p":1.5566,"s":"200"},{"n":179.4,"p":1.5433,"s":"200"},{"n":189.3,"p":1.5299,"s":"200"},{"n":201.2,"p":1.5124,"s":"200"},{"n":212.1,"p":1.4986,"s":"200"},{"n":224,"p":1.4813,"s":"200"},{"n":235.9,"p":1.4619,"s":"200"},{"n":244.1,"p":1.4501,"s":"200"}],
"smaDaily":[
{"n":0.25,"p":1.2936,"s":"50"},{"n":3.2,"p":1.2952,"s":"50"},{"n":5.8,"p":1.2966,"s":"50"},{"n":9.6,"p":1.2979,"s":"50"},{"n":11.3,"p":1.2978,"s":"50"},{"n":15.1,"p":1.2991,"s":"50"},{"n":18.5,"p":1.2994,"s":"50"},{"n":22.7,"p":1.2989,"s":"50"},{"n":26.1,"p":1.2994,"s":"50"},{"n":34.2,"p":1.3007,"s":"50"},{"n":39.7,"p":1.3032,"s":"50"},{"n":44.3,"p":1.3038,"s":"50"},{"n":48.1,"p":1.3034,"s":"50"},{"n":51.1,"p":1.3042,"s":"50"},{"n":54,"p":1.3043,"s":"50"},{"n":57.5,"p":1.3062,"s":"50"},{"n":61.3,"p":1.3074,"s":"50"},{"n":65,"p":1.3084,"s":"50"},{"n":68.5,"p":1.3103,"s":"50"},{"n":71,"p":1.3139,"s":"50"},{"n":73.5,"p":1.3168,"s":"50"},{"n":78.2,"p":1.3207,"s":"50"},{"n":81.6,"p":1.3224,"s":"50"},{"n":87.1,"p":1.3219,"s":"50"},{"n":94.7,"p":1.3245,"s":"50"},{"n":100.7,"p":1.3278,"s":"50"},{"n":103.2,"p":1.3298,"s":"50"},{"n":109.2,"p":1.3325,"s":"50"},{"n":113.4,"p":1.3334,"s":"50"},{"n":117.3,"p":1.3334,"s":"50"},{"n":120.7,"p":1.3318,"s":"50"},{"n":127,"p":1.3311,"s":"50"},{"n":131.2,"p":1.3311,"s":"50"},{"n":134.2,"p":1.3326,"s":"50"},{"n":139.7,"p":1.3339,"s":"50"},{"n":142.3,"p":1.3347,"s":"50"},{"n":147.3,"p":1.3380,"s":"50"},{"n":149.5,"p":1.3396,"s":"50"},{"n":152,"p":1.3412,"s":"50"},{"n":155.4,"p":1.3455,"s":"50"},{"n":158.3,"p":1.3497,"s":"50"},{"n":162.6,"p":1.3575,"s":"50"},{"n":166.8,"p":1.3650,"s":"50"},{"n":171.9,"p":1.3708,"s":"50"},{"n":175.3,"p":1.3732,"s":"50"},{"n":181.2,"p":1.3802,"s":"50"},{"n":184.2,"p":1.3832,"s":"50"},{"n":186.3,"p":1.3845,"s":"50"},
{"n":0.25,"p":1.2813,"s":"100"},{"n":10,"p":1.2814,"s":"100"},{"n":12.5,"p":1.2823,"s":"100"},{"n":16.8,"p":1.2833,"s":"100"},{"n":22.7,"p":1.2844,"s":"100"},{"n":27,"p":1.2857,"s":"100"},{"n":29.9,"p":1.2864,"s":"100"},{"n":32.9,"p":1.2887,"s":"100"},{"n":37.5,"p":1.2933,"s":"100"},{"n":40.9,"p":1.2953,"s":"100"},{"n":46.4,"p":1.2976,"s":"100"},{"n":51.5,"p":1.2992,"s":"100"},{"n":54.5,"p":1.3000,"s":"100"},{"n":59.2,"p":1.3023,"s":"100"},{"n":61.7,"p":1.3026,"s":"100"},{"n":66,"p":1.3041,"s":"100"},{"n":68.5,"p":1.3048,"s":"100"},{"n":73.5,"p":1.3082,"s":"100"},{"n":79.5,"p":1.3108,"s":"100"},{"n":82,"p":1.3115,"s":"100"},{"n":87.1,"p":1.3119,"s":"100"},{"n":91.4,"p":1.3134,"s":"100"},{"n":99,"p":1.3152,"s":"100"},{"n":103.2,"p":1.3170,"s":"100"},{"n":105,"p":1.3175,"s":"100"},{"n":110,"p":1.3198,"s":"100"},{"n":113.4,"p":1.3204,"s":"100"},{"n":116.8,"p":1.3214,"s":"100"},{"n":121,"p":1.3228,"s":"100"},{"n":123.6,"p":1.3243,"s":"100"},{"n":127,"p":1.3253,"s":"100"},{"n":129.5,"p":1.3263,"s":"100"},{"n":133.8,"p":1.3274,"s":"100"},{"n":139.3,"p":1.3282,"s":"100"},{"n":142.3,"p":1.3293,"s":"100"},{"n":145.7,"p":1.3308,"s":"100"},{"n":149,"p":1.3331,"s":"100"},{"n":151.1,"p":1.3343,"s":"100"},{"n":154.1,"p":1.3367,"s":"100"},{"n":158.3,"p":1.3406,"s":"100"},{"n":162.6,"p":1.3455,"s":"100"},{"n":167.7,"p":1.3499,"s":"100"},{"n":169.4,"p":1.3507,"s":"100"},{"n":175.3,"p":1.3522,"s":"100"},{"n":179.5,"p":1.3546,"s":"100"},{"n":182.9,"p":1.3565,"s":"100"},{"n":184.6,"p":1.3580,"s":"100"},{"n":186.3,"p":1.3587,"s":"100"},
{"n":29.9,"p":1.2864,"s":"200"},{"n":33.7,"p":1.2875,"s":"200"},{"n":38,"p":1.2892,"s":"200"},{"n":44.7,"p":1.2905,"s":"200"},{"n":49,"p":1.2907,"s":"200"},{"n":54,"p":1.2907,"s":"200"},{"n":60,"p":1.2912,"s":"200"},{"n":64.2,"p":1.2920,"s":"200"},{"n":68.5,"p":1.2931,"s":"200"},{"n":71,"p":1.2945,"s":"200"},{"n":74.4,"p":1.2961,"s":"200"},{"n":80.4,"p":1.2985,"s":"200"},{"n":84.6,"p":1.2989,"s":"200"},{"n":92.2,"p":1.3006,"s":"200"},{"n":97.2,"p":1.3014,"s":"200"},{"n":102.4,"p":1.3020,"s":"200"},{"n":107.5,"p":1.3025,"s":"200"},{"n":113.4,"p":1.3032,"s":"200"},{"n":119.4,"p":1.3041,"s":"200"},{"n":124.5,"p":1.3052,"s":"200"},{"n":130.4,"p":1.3065,"s":"200"},{"n":132.1,"p":1.3074,"s":"200"},{"n":134.2,"p":1.3087,"s":"200"},{"n":137.6,"p":1.3104,"s":"200"},{"n":141.8,"p":1.3124,"s":"200"},{"n":146.5,"p":1.3144,"s":"200"},{"n":148.2,"p":1.3154,"s":"200"},{"n":151.4,"p":1.3167,"s":"200"},{"n":154.1,"p":1.3185,"s":"200"},{"n":156.6,"p":1.3201,"s":"200"},{"n":160,"p":1.3224,"s":"200"},{"n":162.6,"p":1.3241,"s":"200"},{"n":166,"p":1.3263,"s":"200"},{"n":169.4,"p":1.3280,"s":"200"},{"n":175.3,"p":1.3303,"s":"200"},{"n":178.7,"p":1.3321,"s":"200"},{"n":183.7,"p":1.3345,"s":"200"},{"n":186.3,"p":1.3352,"s":"200"}],
"indWeekly":[
{"n":5.1,"i":0.02755,"s":"orange"},{"n":7.2,"i":0.02755,"s":"orange"},{"n":8.8,"i":0.02539,"s":"orange"},{"n":11.2,"i":0.02345,"s":"orange"},{"n":13.6,"i":0.02323,"s":"orange"},{"n":16.4,"i":0.02377,"s":"orange"},{"n":18.4,"i":0.02269,"s":"orange"},{"n":21.5,"i":0.02215,"s":"orange"},{"n":25.6,"i":0.02161,"s":"orange"},{"n":29.5,"i":0.02107,"s":"orange"},{"n":32,"i":0.02377,"s":"orange"},{"n":35.2,"i":0.02161,"s":"orange"},{"n":39.1,"i":0.02107,"s":"orange"},{"n":41.6,"i":0.02053,"s":"orange"},{"n":44.7,"i":0.01891,"s":"orange"},{"n":48.8,"i":0.01783,"s":"orange"},{"n":53.5,"i":0.01545,"s":"orange"},{"n":57.6,"i":0.01643,"s":"orange"},{"n":61.2,"i":0.01621,"s":"orange"},{"n":63.1,"i":0.02053,"s":"orange"},{"n":66.3,"i":0.02323,"s":"orange"},{"n":69.5,"i":0.02323,"s":"orange"},{"n":72,"i":0.02485,"s":"orange"},{"n":74.3,"i":0.02215,"s":"orange"},{"n":78.3,"i":0.02085,"s":"orange"},{"n":80.7,"i":0.02269,"s":"orange"},{"n":83.2,"i":0.02323,"s":"orange"},{"n":85.5,"i":0.02377,"s":"orange"},{"n":88,"i":0.02215,"s":"orange"},{"n":90,"i":0.02863,"s":"orange"},{"n":92,"i":0.02593,"s":"orange"},{"n":94.3,"i":0.02971,"s":"orange"},{"n":98,"i":0.03241,"s":"orange"},{"n":100.8,"i":0.02971,"s":"orange"},{"n":103.1,"i":0.03133,"s":"orange"},{"n":106.3,"i":0.02647,"s":"orange"},{"n":109.5,"i":0.02377,"s":"orange"},{"n":112.8,"i":0.02323,"s":"orange"},{"n":116.8,"i":0.02917,"s":"orange"},{"n":119.1,"i":0.02625,"s":"orange"},{"n":123.2,"i":0.02787,"s":"orange"},{"n":127.2,"i":0.02323,"s":"orange"},{"n":129.6,"i":0.02669,"s":"orange"},{"n":132,"i":0.02377,"s":"orange"},{"n":135.1,"i":0.02625,"s":"orange"},{"n":139.2,"i":0.03025,"s":"orange"},{"n":142.8,"i":0.03425,"s":"orange"},{"n":145.5,"i":0.03079,"s":"orange"},{"n":150.3,"i":0.02701,"s":"orange"},{"n":153.5,"i":0.02701,"s":"orange"},{"n":155.9,"i":0.03295,"s":"orange"},{"n":156.7,"i":0.04613,"s":"orange"},{"n":158.3,"i":0.04569,"s":"orange"},{"n":159.5,"i":0.04677,"s":"orange"},{"n":161.5,"i":0.03997,"s":"orange"},{"n":164,"i":0.03403,"s":"orange"},{"n":168,"i":0.02971,"s":"orange"},{"n":170.3,"i":0.03025,"s":"orange"},{"n":171.9,"i":0.03673,"s":"orange"},{"n":174.3,"i":0.03187,"s":"orange"},{"n":178.4,"i":0.03025,"s":"orange"},{"n":181.5,"i":0.02863,"s":"orange"},{"n":185,"i":0.02593,"s":"orange"},{"n":188.7,"i":0.03079,"s":"orange"},{"n":191.2,"i":0.02647,"s":"orange"},{"n":196,"i":0.02431,"s":"orange"},{"n":200,"i":0.02485,"s":"orange"},{"n":204,"i":0.02161,"s":"orange"},{"n":208.8,"i":0.02377,"s":"orange"},{"n":213.5,"i":0.02269,"s":"orange"},{"n":218.3,"i":0.01977,"s":"orange"},{"n":224,"i":0.02701,"s":"orange"},{"n":228,"i":0.02485,"s":"orange"},{"n":231.2,"i":0.02323,"s":"orange"},{"n":236.8,"i":0.01999,"s":"orange"},{"n":242.4,"i":0.02917,"s":"orange"},{"n":244,"i":0.02755,"s":"orange"},
{"n":5.1,"i":0.02625,"s":"purple"},{"n":16.8,"i":0.02517,"s":"purple"},{"n":29.5,"i":0.02377,"s":"purple"},{"n":42.4,"i":0.02269,"s":"purple"},{"n":53.5,"i":0.02161,"s":"purple"},{"n":64.7,"i":0.02129,"s":"purple"},{"n":77.5,"i":0.02129,"s":"purple"},{"n":88.7,"i":0.02215,"s":"purple"},{"n":101.6,"i":0.02323,"s":"purple"},{"n":117.6,"i":0.02323,"s":"purple"},{"n":133.6,"i":0.02345,"s":"purple"},{"n":149.6,"i":0.02431,"s":"purple"},{"n":157.5,"i":0.02485,"s":"purple"},{"n":165.5,"i":0.02539,"s":"purple"},{"n":189.6,"i":0.02561,"s":"purple"},{"n":213.5,"i":0.02593,"s":"purple"},{"n":229.5,"i":0.02561,"s":"purple"},{"n":244,"i":0.02539,"s":"purple"},
{"n":5.1,"i":0.02625,"s":"teal"},{"n":13.6,"i":0.02485,"s":"teal"},{"n":21.5,"i":0.02409,"s":"teal"},{"n":29.5,"i":0.02323,"s":"teal"},{"n":37.5,"i":0.02215,"s":"teal"},{"n":45.5,"i":0.02053,"s":"teal"},{"n":53.5,"i":0.01913,"s":"teal"},{"n":60.7,"i":0.01913,"s":"teal"},{"n":64.7,"i":0.02021,"s":"teal"},{"n":72.8,"i":0.02085,"s":"teal"},{"n":80.7,"i":0.02129,"s":"teal"},{"n":88.7,"i":0.02215,"s":"teal"},{"n":94.3,"i":0.02485,"s":"teal"},{"n":100,"i":0.02593,"s":"teal"},{"n":108,"i":0.02615,"s":"teal"},{"n":112.8,"i":0.02485,"s":"teal"},{"n":120.7,"i":0.02615,"s":"teal"},{"n":130.4,"i":0.02517,"s":"teal"},{"n":138.4,"i":0.02625,"s":"teal"},{"n":144.8,"i":0.02831,"s":"teal"},{"n":153.5,"i":0.02787,"s":"teal"},{"n":157.5,"i":0.03079,"s":"teal"},{"n":160,"i":0.03317,"s":"teal"},{"n":165.5,"i":0.03209,"s":"teal"},{"n":170.3,"i":0.03079,"s":"teal"},{"n":173.5,"i":0.03187,"s":"teal"},{"n":180,"i":0.03101,"s":"teal"},{"n":189.6,"i":0.03025,"s":"teal"},{"n":197.6,"i":0.02809,"s":"teal"},{"n":205.6,"i":0.02647,"s":"teal"},{"n":213.5,"i":0.02625,"s":"teal"},{"n":220,"i":0.02453,"s":"teal"},{"n":224.8,"i":0.02625,"s":"teal"},{"n":231.2,"i":0.02539,"s":"teal"},{"n":237.5,"i":0.02377,"s":"teal"},{"n":244,"i":0.02539,"s":"teal"}],
"indDaily":[
{"n":0,"i":0.01297,"s":"orange"},{"n":2.2,"i":0.01198,"s":"orange"},{"n":4.1,"i":0.01039,"s":"orange"},{"n":6.2,"i":0.01139,"s":"orange"},{"n":8.4,"i":0.01039,"s":"orange"},{"n":10.2,"i":0.00881,"s":"orange"},{"n":12,"i":0.01139,"s":"orange"},{"n":14.5,"i":0.01039,"s":"orange"},{"n":16.3,"i":0.00881,"s":"orange"},{"n":18.8,"i":0.00821,"s":"orange"},{"n":21.8,"i":0.00762,"s":"orange"},{"n":24.2,"i":0.01,"s":"orange"},{"n":26.7,"i":0.0094,"s":"orange"},{"n":30.4,"i":0.00881,"s":"orange"},{"n":34.6,"i":0.0098,"s":"orange"},{"n":37.1,"i":0.00841,"s":"orange"},{"n":38.9,"i":0.01067,"s":"orange"},{"n":40.8,"i":0.0094,"s":"orange"},{"n":44.4,"i":0.00829,"s":"orange"},{"n":47.5,"i":0.00762,"s":"orange"},{"n":51.2,"i":0.00789,"s":"orange"},{"n":54.2,"i":0.00762,"s":"orange"},{"n":57.3,"i":0.0073,"s":"orange"},{"n":59.7,"i":0.00781,"s":"orange"},{"n":61.5,"i":0.00853,"s":"orange"},{"n":63.4,"i":0.00841,"s":"orange"},{"n":65.2,"i":0.0092,"s":"orange"},{"n":67,"i":0.01139,"s":"orange"},{"n":69.2,"i":0.01567,"s":"orange"},{"n":70.1,"i":0.01567,"s":"orange"},{"n":71,"i":0.01409,"s":"orange"},{"n":72.2,"i":0.01536,"s":"orange"},{"n":73.8,"i":0.01456,"s":"orange"},{"n":75,"i":0.01464,"s":"orange"},{"n":77.4,"i":0.01278,"s":"orange"},{"n":79.9,"i":0.01258,"s":"orange"},{"n":82.3,"i":0.01039,"s":"orange"},{"n":83.5,"i":0.01107,"s":"orange"},{"n":86,"i":0.01079,"s":"orange"},{"n":87.5,"i":0.00972,"s":"orange"},{"n":88.4,"i":0.01099,"s":"orange"},{"n":91.5,"i":0.01028,"s":"orange"},{"n":92.7,"i":0.01059,"s":"orange"},{"n":95.8,"i":0.0098,"s":"orange"},{"n":98.2,"i":0.01159,"s":"orange"},{"n":101.9,"i":0.01012,"s":"orange"},{"n":103.1,"i":0.01317,"s":"orange"},{"n":105.6,"i":0.01218,"s":"orange"},{"n":108,"i":0.0102,"s":"orange"},{"n":110.4,"i":0.01119,"s":"orange"},{"n":113.5,"i":0.0098,"s":"orange"},{"n":116.6,"i":0.00881,"s":"orange"},{"n":117.8,"i":0.0094,"s":"orange"},{"n":119.6,"i":0.00829,"s":"orange"},{"n":121.4,"i":0.01,"s":"orange"},{"n":125.1,"i":0.01099,"s":"orange"},{"n":127.6,"i":0.01059,"s":"orange"},{"n":129.1,"i":0.01258,"s":"orange"},{"n":131.8,"i":0.01079,"s":"orange"},{"n":134.9,"i":0.01099,"s":"orange"},{"n":137.3,"i":0.00901,"s":"orange"},{"n":142.2,"i":0.00654,"s":"orange"},{"n":144.7,"i":0.00869,"s":"orange"},{"n":147.7,"i":0.00742,"s":"orange"},{"n":151.4,"i":0.00781,"s":"orange"},{"n":153.2,"i":0.01039,"s":"orange"},{"n":155,"i":0.01119,"s":"orange"},{"n":157.5,"i":0.01119,"s":"orange"},{"n":158.7,"i":0.01178,"s":"orange"},{"n":161.4,"i":0.01702,"s":"orange"},{"n":163,"i":0.01635,"s":"orange"},{"n":164.2,"i":0.01675,"s":"orange"},{"n":166.7,"i":0.01496,"s":"orange"},{"n":168.7,"i":0.01635,"s":"orange"},{"n":169.7,"i":0.01595,"s":"orange"},{"n":172.4,"i":0.01833,"s":"orange"},{"n":174.2,"i":0.01516,"s":"orange"},{"n":175.6,"i":0.01595,"s":"orange"},{"n":178.9,"i":0.01317,"s":"orange"},{"n":180.7,"i":0.01278,"s":"orange"},{"n":182.6,"i":0.01218,"s":"orange"},{"n":185,"i":0.01317,"s":"orange"},{"n":185.6,"i":0.01357,"s":"orange"},{"n":186.5,"i":0.01238,"s":"orange"},
{"n":0,"i":0.01,"s":"teal"},{"n":5.9,"i":0.00988,"s":"teal"},{"n":9.6,"i":0.0096,"s":"teal"},{"n":13.2,"i":0.01012,"s":"teal"},{"n":19.4,"i":0.0094,"s":"teal"},{"n":25.5,"i":0.00972,"s":"teal"},{"n":32.8,"i":0.0092,"s":"teal"},{"n":38.9,"i":0.00948,"s":"teal"},{"n":47.5,"i":0.00901,"s":"teal"},{"n":56,"i":0.00853,"s":"teal"},{"n":62.1,"i":0.00829,"s":"teal"},{"n":66.4,"i":0.00881,"s":"teal"},{"n":71.9,"i":0.01067,"s":"teal"},{"n":76.8,"i":0.01107,"s":"teal"},{"n":81.7,"i":0.01099,"s":"teal"},{"n":87.8,"i":0.01079,"s":"teal"},{"n":96.4,"i":0.01051,"s":"teal"},{"n":103.7,"i":0.01119,"s":"teal"},{"n":108.6,"i":0.01079,"s":"teal"},{"n":115.9,"i":0.01051,"s":"teal"},{"n":120.8,"i":0.01012,"s":"teal"},{"n":128.2,"i":0.01079,"s":"teal"},{"n":135.5,"i":0.01059,"s":"teal"},{"n":141.6,"i":0.0094,"s":"teal"},{"n":145.3,"i":0.00956,"s":"teal"},{"n":151.4,"i":0.00908,"s":"teal"},{"n":156.3,"i":0.0098,"s":"teal"},{"n":160,"i":0.01,"s":"teal"},{"n":163,"i":0.01178,"s":"teal"},{"n":169.7,"i":0.01238,"s":"teal"},{"n":172.8,"i":0.01337,"s":"teal"},{"n":178.3,"i":0.01317,"s":"teal"},{"n":182,"i":0.0129,"s":"teal"},{"n":185.6,"i":0.01297,"s":"teal"}],
"purpleDaily":[
{"n":0,"i":0.0067},{"n":3.5,"i":0.0068},{"n":6.2,"i":0.00704},{"n":8.4,"i":0.0063},{"n":10.2,"i":0.0061},{"n":12.6,"i":0.007},{"n":14.5,"i":0.0069},{"n":17.5,"i":0.0062},{"n":20.6,"i":0.006},{"n":23.6,"i":0.00624},{"n":26.1,"i":0.00624},{"n":29.1,"i":0.0059},{"n":34,"i":0.006},{"n":38.9,"i":0.0061},{"n":43.8,"i":0.0057},{"n":47.5,"i":0.0054},{"n":52.4,"i":0.0051},{"n":57.3,"i":0.0049},{"n":60.3,"i":0.0046},{"n":64.6,"i":0.0046},{"n":67.6,"i":0.0055},{"n":70.7,"i":0.0063},{"n":74.4,"i":0.0069},{"n":79.3,"i":0.00704},{"n":84.2,"i":0.00724},{"n":88.4,"i":0.00726},{"n":96.4,"i":0.0073},{"n":98.2,"i":0.0076},{"n":101.9,"i":0.0075},{"n":103.7,"i":0.00796},{"n":108.6,"i":0.00784},{"n":111.7,"i":0.00796},{"n":117.2,"i":0.0078},{"n":120.2,"i":0.0076},{"n":123.9,"i":0.0079},{"n":128.2,"i":0.008},{"n":129.6,"i":0.00824},{"n":135.5,"i":0.00824},{"n":141.6,"i":0.0076},{"n":145.3,"i":0.00766},{"n":151.4,"i":0.00724},{"n":152.6,"i":0.00756},{"n":157.5,"i":0.0077},{"n":161.2,"i":0.0084},{"n":166.7,"i":0.0089},{"n":169.7,"i":0.0093},{"n":173.4,"i":0.0099},{"n":177,"i":0.01024},{"n":182,"i":0.0103},{"n":186.3,"i":0.0105}],
"blocks":[
{"x":0,"x2":2722,"y":38,"y2":55,"part":"band"},{"x":0,"x2":16,"y":55,"y2":1219,"part":"band"},{"x":1352,"x2":1383,"y":55,"y2":1219,"part":"band"},{"x":2718,"x2":2722,"y":55,"y2":1219,"part":"band"},
{"x":16,"x2":1352,"y":52,"y2":55,"part":"frame"},{"x":1383,"x2":2718,"y":52,"y2":55,"part":"frame"},{"x":13,"x2":16,"y":52,"y2":1219,"part":"frame"},{"x":1352,"x2":1355,"y":52,"y2":1219,"part":"frame"},{"x":1380,"x2":1383,"y":52,"y2":1219,"part":"frame"},{"x":2718,"x2":2720,"y":52,"y2":1219,"part":"frame"},
{"x":0,"x2":1366,"y":0,"y2":38,"part":"toolbar"},{"x":1368,"x2":2722,"y":0,"y2":37,"part":"toolbar"},{"x":0,"x2":99,"y":0,"y2":38,"part":"chart"},{"x":1368,"x2":1467,"y":0,"y2":37,"part":"chart"},
{"x":135,"x2":333,"y":0,"y2":35,"part":"dropdown"},{"x":397,"x2":595,"y":0,"y2":35,"part":"dropdown"},{"x":1503,"x2":1701,"y":0,"y2":33,"part":"dropdown"},{"x":1765,"x2":1963,"y":0,"y2":33,"part":"dropdown"},
{"x":1177,"x2":1207,"y":2,"y2":32,"part":"grey"},{"x":1215,"x2":1245,"y":2,"y2":32,"part":"yellow"},{"x":2545,"x2":2575,"y":1,"y2":31,"part":"grey"},{"x":2583,"x2":2613,"y":1,"y2":31,"part":"yellow"},
{"x":1267,"x2":1269,"y":55,"y2":1189,"part":"line"},{"x":1468,"x2":1470,"y":55,"y2":1189,"part":"line"},{"x":2576,"x2":2578,"y":55,"y2":1189,"part":"line"},
{"x":16,"x2":1352,"y":1074,"y2":1076,"part":"line"},{"x":16,"x2":1268,"y":1177,"y2":1179,"part":"line"},{"x":16,"x2":1268,"y":1188,"y2":1190,"part":"line"},
{"x":1383,"x2":2718,"y":1073,"y2":1075,"part":"line"},{"x":1469,"x2":2577,"y":1177,"y2":1179,"part":"line"},{"x":1469,"x2":2577,"y":1188,"y2":1190,"part":"line"}],
"flags":[
{"x":1268,"x2":1351,"y":718,"y2":746,"part":"price"},{"x":2577,"x2":2719,"y":407,"y2":435,"part":"price"},
{"x":1268,"x2":1350,"y":1096,"y2":1125,"part":"volume"},{"x":1268,"x2":1350,"y":1127,"y2":1134,"part":"orange"},{"x":1268,"x2":1350,"y":1134,"y2":1163,"part":"purple"},
{"x":2577,"x2":2719,"y":1073,"y2":1094,"part":"purple"},{"x":2577,"x2":2719,"y":1119,"y2":1148,"part":"volume"},{"x":1386,"x2":1469,"y":1111,"y2":1139,"part":"teal"},{"x":1386,"x2":1469,"y":1139,"y2":1145,"part":"orange"}],
"solidIcons":[
{"icon":"pencil","x":721,"y":18},{"icon":"pencil","x":2089,"y":16},{"icon":"dots","x":1037,"y":18},{"icon":"dots","x":2405,"y":16},{"icon":"steps","x":1100,"y":18},{"icon":"steps","x":2468,"y":16},{"icon":"tri","x":1154,"y":18},{"icon":"tri","x":2522,"y":16},{"icon":"close","x":1344,"y":17},{"icon":"close","x":2712,"y":16},{"icon":"marker","x":1220,"y":98},{"icon":"marker","x":2529,"y":96},
{"icon":"tipBlue","x":1265,"y":1110},{"icon":"tipPurple","x":1265,"y":1148},{"icon":"tipPurple","x":2574,"y":1083},{"icon":"tipBlue","x":2574,"y":1133},{"icon":"tipTeal","x":1472,"y":1125},{"icon":"tipPrice","x":1265,"y":732},{"icon":"tipPrice","x":2574,"y":421}],
"lineIcons":[
{"icon":"bars","x":647,"y":18},{"icon":"bars","x":2015,"y":16},{"icon":"search","x":359,"y":17},{"icon":"search","x":1727,"y":15},{"icon":"plus","x":783,"y":17},{"icon":"plus","x":2151,"y":15},{"icon":"minus","x":839,"y":17},{"icon":"minus","x":2207,"y":15},{"icon":"crosshair","x":907,"y":17},{"icon":"crosshair","x":2275,"y":15},{"icon":"doc","x":969,"y":17},{"icon":"doc","x":2337,"y":15},{"icon":"chevron","x":310,"y":17},{"icon":"chevron","x":573,"y":17},{"icon":"chevron","x":1678,"y":15},{"icon":"chevron","x":1941,"y":15},{"icon":"winmin","x":1268,"y":17},{"icon":"winmin","x":2636,"y":16},{"icon":"winmax","x":1306,"y":17},{"icon":"winmax","x":2674,"y":16},{"icon":"winbox","x":1344,"y":17},{"icon":"winbox","x":2712,"y":16}]
},
"resolve":{"scale":{"x":"independent","y":"independent","color":"independent","shape":"independent"},"axis":{"x":"independent","y":"independent"}},
"layer":[
{"data":{"name":"blocks"},"mark":{"type":"rect"},"encoding":{"x":{"field":"x","type":"quantitative","scale":{"domain":[0,2722],"range":[0,2722],"nice":false,"zero":false},"axis":null},"x2":{"field":"x2"},"y":{"field":"y","type":"quantitative","scale":{"domain":[0,1219],"range":[0,1219],"nice":false,"zero":false},"axis":null},"y2":{"field":"y2"},"color":{"field":"part","type":"nominal","legend":null,"scale":{"domain":["band","frame","toolbar","chart","dropdown","grey","yellow","line"],"range":["#2e2e30","#3e3e41","#505050","#8e1b24","#3c3c42","#b4b2b2","#ffff00","#bdbdbd"]}}}},
{"resolve":{"scale":{"color":"independent"}},"layer":[
{"data":{"values":[{"n":250.4,"p":1.3762}]},"mark":{"type":"point","filled":true,"shape":"M-.74,0A.74,1 0 1,1 .74,0A.74,1 0 1,1 -.74,0Z","size":1849,"fill":"#0a3a0a","stroke":"#6a9be8","strokeWidth":2,"opacity":1},"encoding":{"x":{"field":"n","type":"quantitative","scale":{"domain":[-2.44,275.5],"range":[16,1268],"nice":false,"zero":false},"axis":null},"y":{"field":"p","type":"quantitative","scale":{"domain":[1.1834,1.766],"range":[1075,55],"nice":false,"zero":false},"axis":{"orient":"right","offset":-1454,"values":[1.2,1.25,1.3,1.35,1.4,1.45,1.5,1.55,1.6,1.65,1.7,1.75],"format":".4f","title":null,"tickSize":6,"labelPadding":5}}}},
{"data":{"values":[{"n":251,"p":1.3514}]},"mark":{"type":"point","filled":true,"shape":"M-.74,0A.74,1 0 1,1 .74,0A.74,1 0 1,1 -.74,0Z","size":2401,"fill":"#6b0000","stroke":"#6a9be8","strokeWidth":2,"opacity":1},"encoding":{"x":{"field":"n","type":"quantitative"},"y":{"field":"p","type":"quantitative"}}},
{"data":{"name":"weekly"},"mark":{"type":"rule","strokeWidth":2},"encoding":{"x":{"field":"n","type":"quantitative"},"y":{"field":"h","type":"quantitative"},"y2":{"field":"l"},"color":{"field":"dir","type":"nominal","legend":null,"scale":{"domain":["up","down"],"range":["#00f5f5","#4169e1"]}}}},
{"data":{"name":"smaWeekly"},"mark":{"type":"line","strokeWidth":1.4},"encoding":{"x":{"field":"n","type":"quantitative"},"y":{"field":"p","type":"quantitative"},"color":{"field":"s","type":"nominal","legend":null,"sort":null,"scale":{"domain":["50","100","200"],"range":["#1e78c8","#c8941e","#c0605a"]}}}},
{"data":{"values":[{"n":150.3,"p":1.3697},{"n":271,"p":1.3697}]},"mark":{"type":"line","color":"#6495ed","strokeWidth":2},"encoding":{"x":{"field":"n","type":"quantitative"},"y":{"field":"p","type":"quantitative"}}},
{"data":{"values":[{"n":190.7,"p":1.2106},{"n":266,"p":1.4113}]},"mark":{"type":"line","color":"#6495ed","strokeWidth":2},"encoding":{"x":{"field":"n","type":"quantitative"},"y":{"field":"p","type":"quantitative"}}}]},
{"resolve":{"scale":{"color":"independent"}},"layer":[
{"data":{"name":"weekly"},"mark":{"type":"rule","strokeWidth":1.8,"color":"#2090ff"},"encoding":{"x":{"field":"n","type":"quantitative","scale":{"domain":[-2.44,275.5],"range":[16,1268],"nice":false,"zero":false},"axis":{"orient":"bottom","offset":-30,"values":[2,15,28,40,53,66,79,92,105,118,131,144,157,171,185,198,211,224,237,250,263],"labelExpr":"['J','O','14','A','J','O','15','A','J','O','16','A','J','O','17','A','J','O','18','A','J'][round(datum.index*20)]","title":null,"tickSize":5,"labelPadding":7}},"y":{"field":"v","type":"quantitative","scale":{"domain":[-106,995],"range":[1189,1075],"nice":false,"zero":false},"axis":null},"y2":{"datum":0}}}]},
{"data":{"name":"indWeekly"},"mark":{"type":"line","strokeWidth":1.3},"encoding":{"x":{"field":"n","type":"quantitative","scale":{"domain":[-2.44,275.5],"range":[16,1268],"nice":false,"zero":false},"axis":null},"y":{"field":"i","type":"quantitative","scale":{"domain":[0.0122,0.0491],"range":[1189,1075],"nice":false,"zero":false},"axis":{"orient":"right","offset":-1454,"values":[0.02],"title":null,"tickSize":0,"labelPadding":15}},"color":{"field":"s","type":"nominal","legend":null,"scale":{"domain":["orange","purple","teal"],"range":["#e08e00","#5c0f63","#0d7d80"]}}}},
{"resolve":{"scale":{"color":"independent"}},"layer":[
{"data":{"values":[{"n":171.7,"p":1.3807}]},"mark":{"type":"point","filled":true,"shape":"M-.54,0A.54,1 0 1,1 .54,0A.54,1 0 1,1 -.54,0Z","size":2704,"fill":"#2f4a80","stroke":"#6a9be8","strokeWidth":2,"opacity":1},"encoding":{"x":{"field":"n","type":"quantitative","scale":{"domain":[-2.56,207.7],"range":[1469,2577],"nice":false,"zero":false},"axis":null},"y":{"field":"p","type":"quantitative","scale":{"domain":[1.2605,1.4462],"range":[1073,55],"nice":false,"zero":false},"axis":{"orient":"right","offset":-145,"values":[1.27,1.28,1.29,1.3,1.31,1.32,1.33,1.34,1.35,1.36,1.37,1.39,1.4,1.41,1.42,1.43,1.44],"format":".4f","title":null,"tickSize":6,"labelPadding":5}}}},
{"data":{"values":[{"n":180.2,"p":1.3893}]},"mark":{"type":"point","filled":true,"shape":"M-.82,0A.82,1 0 1,1 .82,0A.82,1 0 1,1 -.82,0Z","size":1714,"fill":"#2f4a80","stroke":"#6a9be8","strokeWidth":2,"opacity":1},"encoding":{"x":{"field":"n","type":"quantitative"},"y":{"field":"p","type":"quantitative"}}},
{"data":{"values":[{"n":196.9,"p":1.3979}]},"mark":{"type":"point","filled":true,"shape":"M-2.8,0A2.8,1 0 1,1 2.8,0A2.8,1 0 1,1 -2.8,0Z","size":1600,"fill":"#6b0000","stroke":"#6a9be8","strokeWidth":2,"opacity":1},"encoding":{"x":{"field":"n","type":"quantitative"},"y":{"field":"p","type":"quantitative"}}},
{"data":{"name":"daily"},"mark":{"type":"rule","strokeWidth":2},"encoding":{"x":{"field":"n","type":"quantitative"},"y":{"field":"h","type":"quantitative"},"y2":{"field":"l"},"color":{"field":"dir","type":"nominal","legend":null,"scale":{"domain":["up","down"],"range":["#00f5f5","#4169e1"]}}}},
{"data":{"values":[{"n":182.3,"p":1.4001}]},"mark":{"type":"point","filled":true,"shape":"M-.57,0A.57,1 0 1,1 .57,0A.57,1 0 1,1 -.57,0Z","size":484,"fill":"#0a4a0a","fillOpacity":0.8,"stroke":"#0a8a0a","strokeWidth":2},"encoding":{"x":{"field":"n","type":"quantitative"},"y":{"field":"p","type":"quantitative"}}},
{"data":{"name":"smaDaily"},"mark":{"type":"line","strokeWidth":1.4},"encoding":{"x":{"field":"n","type":"quantitative"},"y":{"field":"p","type":"quantitative"},"color":{"field":"s","type":"nominal","legend":null,"scale":{"domain":["50","100","200"],"range":["#1e78c8","#c8941e","#c0605a"]}}}},
{"data":{"values":[{"n":163.2,"p":1.4360},{"n":205.4,"p":1.3873}]},"mark":{"type":"line","color":"#6495ed","strokeWidth":2},"encoding":{"x":{"field":"n","type":"quantitative"},"y":{"field":"p","type":"quantitative"}}},
{"data":{"values":[{"n":68.8,"p":1.4239,"t":"Consider short if we come up toward"},{"n":68.8,"p":1.4179,"t":"1.40 and fail to continue higher."}]},"mark":{"type":"text","align":"left","baseline":"middle","font":"Liberation Sans","fontSize":26,"color":"#c8c8c8"},"encoding":{"x":{"field":"n","type":"quantitative"},"y":{"field":"p","type":"quantitative"},"text":{"field":"t"}}}]},
{"data":{"name":"daily"},"mark":{"type":"rule","strokeWidth":2.4,"color":"#2090ff"},"encoding":{"x":{"field":"n","type":"quantitative","scale":{"domain":[-2.56,207.7],"range":[1469,2577],"nice":false,"zero":false},"axis":{"orient":"bottom","offset":-30,"values":[15,36,59,80,102,124,144,166,186],"labelExpr":"['Jul','Aug','Sep','Oct','Nov','Dec','18','Feb','Mar'][round(datum.index*8)]","title":null,"tickSize":5,"labelPadding":7}},"y":{"field":"v","type":"quantitative","scale":{"domain":[-30.5,291],"range":[1189,1073],"nice":false,"zero":false},"axis":{"orient":"right","offset":-145,"values":[0,200],"labelExpr":"datum.value==0?'0':datum.value+'K'","title":null,"tickSize":0,"labelPadding":10}},"y2":{"datum":0}}},
{"data":{"name":"purpleDaily"},"mark":{"type":"line","strokeWidth":1.6,"color":"#6b1475"},"encoding":{"x":{"field":"n","type":"quantitative","scale":{"domain":[-2.56,207.7],"range":[1469,2577],"nice":false,"zero":false},"axis":null},"y":{"field":"i","type":"quantitative","scale":{"domain":[0.00396,0.01092],"range":[1189,1073],"nice":false,"zero":false},"axis":null}}},
{"data":{"name":"indDaily"},"mark":{"type":"line","strokeWidth":1.3},"encoding":{"x":{"field":"n","type":"quantitative","scale":{"domain":[-2.56,207.7],"range":[1469,2577],"nice":false,"zero":false},"axis":null},"y":{"field":"i","type":"quantitative","scale":{"domain":[0.00536,0.01917],"range":[1189,1073],"nice":false,"zero":false},"axis":{"orient":"left","offset":-1469,"values":[0.01,0.015],"title":null,"tickSize":5,"labelPadding":4}},"color":{"field":"s","type":"nominal","legend":null,"scale":{"domain":["orange","teal"],"range":["#e08e00","#0d7d80"]}}}},
{"data":{"name":"flags"},"mark":{"type":"rect","stroke":"#c8c8c8","strokeWidth":1},"encoding":{"x":{"field":"x","type":"quantitative","scale":{"domain":[0,2722],"range":[0,2722],"nice":false,"zero":false},"axis":null},"x2":{"field":"x2"},"y":{"field":"y","type":"quantitative","scale":{"domain":[0,1219],"range":[0,1219],"nice":false,"zero":false},"axis":null},"y2":{"field":"y2"},"color":{"field":"part","type":"nominal","legend":null,"scale":{"domain":["price","volume","orange","purple","teal"],"range":["#000000","#2090ff","#ffa500","#800080","#008f8f"]}}}},
{"resolve":{"scale":{"color":"independent","shape":"independent"}},"layer":[
{"data":{"name":"solidIcons"},"mark":{"type":"point","filled":true,"size":1225,"opacity":1},"encoding":{"x":{"field":"x","type":"quantitative","scale":{"domain":[0,2722],"range":[0,2722],"nice":false,"zero":false},"axis":null},"y":{"field":"y","type":"quantitative","scale":{"domain":[0,1219],"range":[0,1219],"nice":false,"zero":false},"axis":null},"shape":{"field":"icon","type":"nominal","legend":null,"scale":{"domain":["pencil","dots","steps","tri","close","marker","tipBlue","tipPurple","tipTeal","tipPrice"],"range":["M-.8,.95L-.6,.3L.35,-.85Q.5,-1 .7,-.85L.85,-.7Q.95,-.55 .8,-.4L-.15,.75Z","M-1,-.6H-.35L-.1,-.4L-.35,-.2H-1Z M-1,.2H-.35L-.1,.4L-.35,.6H-1Z M.1,-1H.4V-.6H.1Z M.7,-1H1V-.6H.7Z M.1,-.25H.4V.15H.1Z M.7,-.25H1V.15H.7Z M.1,.5H.4V.9H.1Z M.7,.5H1V.9H.7Z","M-.95,-1.1H-.05V-.25H-.95Z M-.05,-.2H.45V.4H-.05Z M.45,.45H1V1.05H.45Z","M-.55,-.4H.55L0,.4Z","M-.7,-.8L-.4,-.8L0,-.25L.4,-.8L.7,-.8L.2,0L.7,.8L.4,.8L0,.25L-.4,.8L-.7,.8L-.2,0Z","M-.83,-1.37H-.4V1.37H-.83Z M-.4,0L.83,-1.3V1.3Z","M.2,-.83L-.2,0L.2,.83Z","M.2,-.83L-.2,0L.2,.83Z","M-.2,-.8L.2,0L-.2,.8Z","M.2,-.8L-.2,0L.2,.8Z"]}},"color":{"field":"icon","type":"nominal","legend":null,"scale":{"domain":["pencil","dots","steps","tri","close","marker","tipBlue","tipPurple","tipTeal","tipPrice"],"range":["#c8c8c8","#d0d0d0","#d0d0d0","#d0d0d0","#d8d8d8","#c8c8c8","#2090ff","#800080","#008f8f","#c8c8c8"]}}}},
{"data":{"name":"lineIcons"},"mark":{"type":"point","filled":false,"size":1225,"strokeWidth":3,"opacity":1},"encoding":{"x":{"field":"x","type":"quantitative"},"y":{"field":"y","type":"quantitative"},"shape":{"field":"icon","type":"nominal","legend":null,"scale":{"domain":["bars","search","plus","minus","crosshair","doc","chevron","winmin","winmax","winbox"],"range":["M-.7,-.8V.9 M-.85,-.5H-.7 M-.7,.6H-.55 M0,-1.05V.6 M-.15,-.1H0 M0,.3H.15 M.7,-.8V.9 M.55,-.4H.7 M.7,.5H.85","M-.45,-.3A.6,.6 0 1,1 .75,-.3A.6,.6 0 1,1 -.45,-.3 M-.25,.15L-.85,.85","M-.75,-.3A.6,.6 0 1,1 .45,-.3A.6,.6 0 1,1 -.75,-.3 M.3,.15L.95,.9 M-.45,-.3H.15 M-.15,-.6V0","M-.75,-.3A.6,.6 0 1,1 .45,-.3A.6,.6 0 1,1 -.75,-.3 M.3,.15L.95,.9 M-.45,-.3H.15","M-.75,0A.75,.75 0 1,1 .75,0A.75,.75 0 1,1 -.75,0 M-1,0H1 M0,-1V1","M-.9,-1.05H.5L.9,-.65V1H-.9Z M-.6,-.5H-.1 M-.6,-.1H-.3 M-.6,.3H-.3 M-.15,.05A.42,.42 0 1,1 .69,.05A.42,.42 0 1,1 -.15,.05 M.55,.35L.9,.9","M-.5,-.3L0,.35L.5,-.3","M-.85,-.95H.85V.95H-.85Z M-.5,.5H.5","M-.85,-.95H.85V.95H-.85Z M-.55,-.55H.55V.6H-.55Z","M-.85,-.95H.85V.95H-.85Z"]}},"color":{"field":"icon","type":"nominal","legend":null,"scale":{"domain":["bars","search","plus","minus","crosshair","doc","chevron","winmin","winmax","winbox"],"range":["#d0d0d0","#8a8a8a","#d0d0d0","#5e5e5e","#d0d0d0","#d0d0d0","#d8d8d8","#d0d0d0","#d0d0d0","#d0d0d0"]}}}},
{"data":{"values":[{"x":51,"y":17,"t":"Chart"},{"x":1419,"y":15,"t":"Chart"}]},"mark":{"type":"text","font":"Liberation Sans","fontSize":29,"color":"#ffffff","baseline":"middle","align":"center"},"encoding":{"x":{"field":"x","type":"quantitative"},"y":{"field":"y","type":"quantitative"},"text":{"field":"t"}}},
{"data":{"values":[{"x":147,"y":17,"t":"6B 03-18"},{"x":409,"y":17,"t":"Weekly"},{"x":1515,"y":15,"t":"6B 03-18"},{"x":1777,"y":15,"t":"Daily"}]},"mark":{"type":"text","font":"Liberation Sans","fontSize":23.5,"color":"#c0c0c0","baseline":"middle","align":"left"},"encoding":{"x":{"field":"x","type":"quantitative"},"y":{"field":"y","type":"quantitative"},"text":{"field":"t"}}},
{"data":{"values":[{"x":21,"y":73,"t":"SMA(6B 03-18 (Weekly),50), SMA(6B 03-18 (Weekly),100), SMA(6B 03-18 (Weekly),200), ABToolbarButtons(6B 03-18"},{"x":21,"y":97,"t":"(Weekly),True)"},{"x":1473,"y":71,"t":"SMA(6B 03-18 (Daily),50), SMA(6B 03-18 (Daily),100), SMA(6B 03-18 (Daily),200), ABToolbarButtons(6B 03-18"},{"x":1473,"y":95,"t":"(Daily),True)"},{"x":21,"y":1170,"t":"© 2018 NinjaTrader, LLC"},{"x":1473,"y":1170,"t":"© 2018 NinjaTrader, LLC"}]},"mark":{"type":"text","font":"Liberation Sans","fontSize":20,"color":"#c8c8c8","baseline":"middle","align":"left"},"encoding":{"x":{"field":"x","type":"quantitative"},"y":{"field":"y","type":"quantitative"},"text":{"field":"t"}}},
{"data":{"values":[{"x":1278,"y":732,"t":"1.3795"},{"x":2587,"y":421,"t":"1.3795"},{"x":1277,"y":1110,"t":"650K"},{"x":1277,"y":1148,"t":"0.0255"},{"x":2586,"y":1083,"t":"0.0105"},{"x":2588,"y":1133,"t":"122K"},{"x":1408,"y":1125,"t":"0.013"}]},"mark":{"type":"text","font":"Liberation Sans","fontSize":21,"color":"#ffffff","baseline":"middle","align":"left"},"encoding":{"x":{"field":"x","type":"quantitative"},"y":{"field":"y","type":"quantitative"},"text":{"field":"t"}}}]}
]}
